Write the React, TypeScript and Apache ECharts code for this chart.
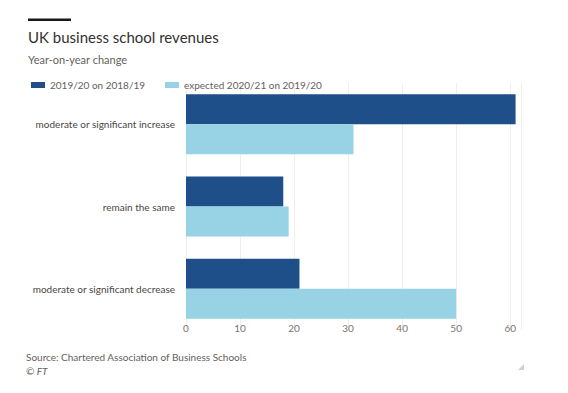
import React, { useEffect, useRef } from "react";
import * as echarts from "echarts";

const categories = [
  "moderate or significant increase",
  "remain the same",
  "moderate or significant decrease",
];
const seriesNames = ["2019/20 on 2018/19", "expected 2020/21 on 2019/20"];
const values2019 = [61, 18, 21];
const valuesExpected = [31, 19, 50];
const xTicks = [0, 10, 20, 30, 40, 50, 60];

const FONT = "Lato, 'Open Sans', sans-serif";
const DARK = "#1f4f89";
const LIGHT = "#97d3e5";

export default function App() {
  const ref = useRef<HTMLDivElement>(null);
  useEffect(() => {
    if (!ref.current) return;
    const chart = echarts.init(ref.current, undefined, { renderer: "svg" });
    chart.setOption({
      animation: false,
      backgroundColor: "#ffffff",
      textStyle: { fontFamily: FONT },
      graphic: [
        { type: "rect", shape: { x: 28, y: 18.5, width: 43, height: 2.5 }, style: { fill: "#1a1817" } },
        {
          type: "text",
          x: 28,
          y: 37,
          style: { text: "UK business school revenues", fontSize: 15, fontWeight: "normal", fontFamily: FONT, fill: "#33302e", verticalAlign: "middle" },
        },
        {
          type: "text",
          x: 28,
          y: 59,
          style: { text: "Year-on-year change", fontSize: 11, fontFamily: FONT, fill: "#66605c", verticalAlign: "middle" },
        },
        {
          type: "text",
          x: 26,
          y: 357,
          style: { text: "Source: Chartered Association of Business Schools", fontSize: 10, fontFamily: FONT, fill: "#66605c", verticalAlign: "middle" },
        },
        {
          type: "text",
          x: 26,
          y: 371,
          style: { text: "© FT", fontSize: 10, fontStyle: "italic", fontFamily: FONT, fill: "#66605c", verticalAlign: "middle" },
        },
        {
          type: "polygon",
          shape: { points: [[524, 364], [524, 370], [518, 370]] },
          style: { fill: "#d0d0d0" },
        },
      ],
      legend: {
        left: 26,
        top: 75,
        itemWidth: 14,
        itemHeight: 6,
        itemGap: 20,
        icon: "rect",
        textStyle: { fontSize: 10, color: "#66605c", fontFamily: FONT },
        data: seriesNames,
      },
      grid: { left: 186, right: 47, top: 83, bottom: 63, containLabel: false },
      xAxis: {
        type: "value",
        min: 0,
        max: 62,
        interval: 10,
        axisLine: { show: false },
        axisTick: { show: false },
        splitLine: { show: true, lineStyle: { color: "#f0eeec", width: 1 } },
        axisLabel: {
          fontSize: 10,
          color: "#7a7570",
          fontFamily: FONT,
          margin: -7,
          showMaxLabel: false,
          formatter: (v: number) => (xTicks.includes(v) ? String(v) : ""),
        },
      },
      yAxis: {
        type: "category",
        inverse: true,
        data: categories,
        axisLine: { show: false },
        axisTick: { show: false },
        axisLabel: { fontSize: 10, color: "#4a4644", fontFamily: FONT, margin: 11 },
      },
      series: [
        {
          name: seriesNames[0],
          type: "bar",
          data: values2019,
          barWidth: 30,
          barGap: "0%",
          itemStyle: { color: DARK },
        },
        {
          name: seriesNames[1],
          type: "bar",
          data: valuesExpected,
          barWidth: 30,
          barGap: "0%",
          itemStyle: { color: LIGHT },
        },
      ],
    });
    return () => chart.dispose();
  }, []);
  return <div ref={ref} style={{ position: "fixed", left: 0, top: 0, width: 568, height: 393 }} />;
}
